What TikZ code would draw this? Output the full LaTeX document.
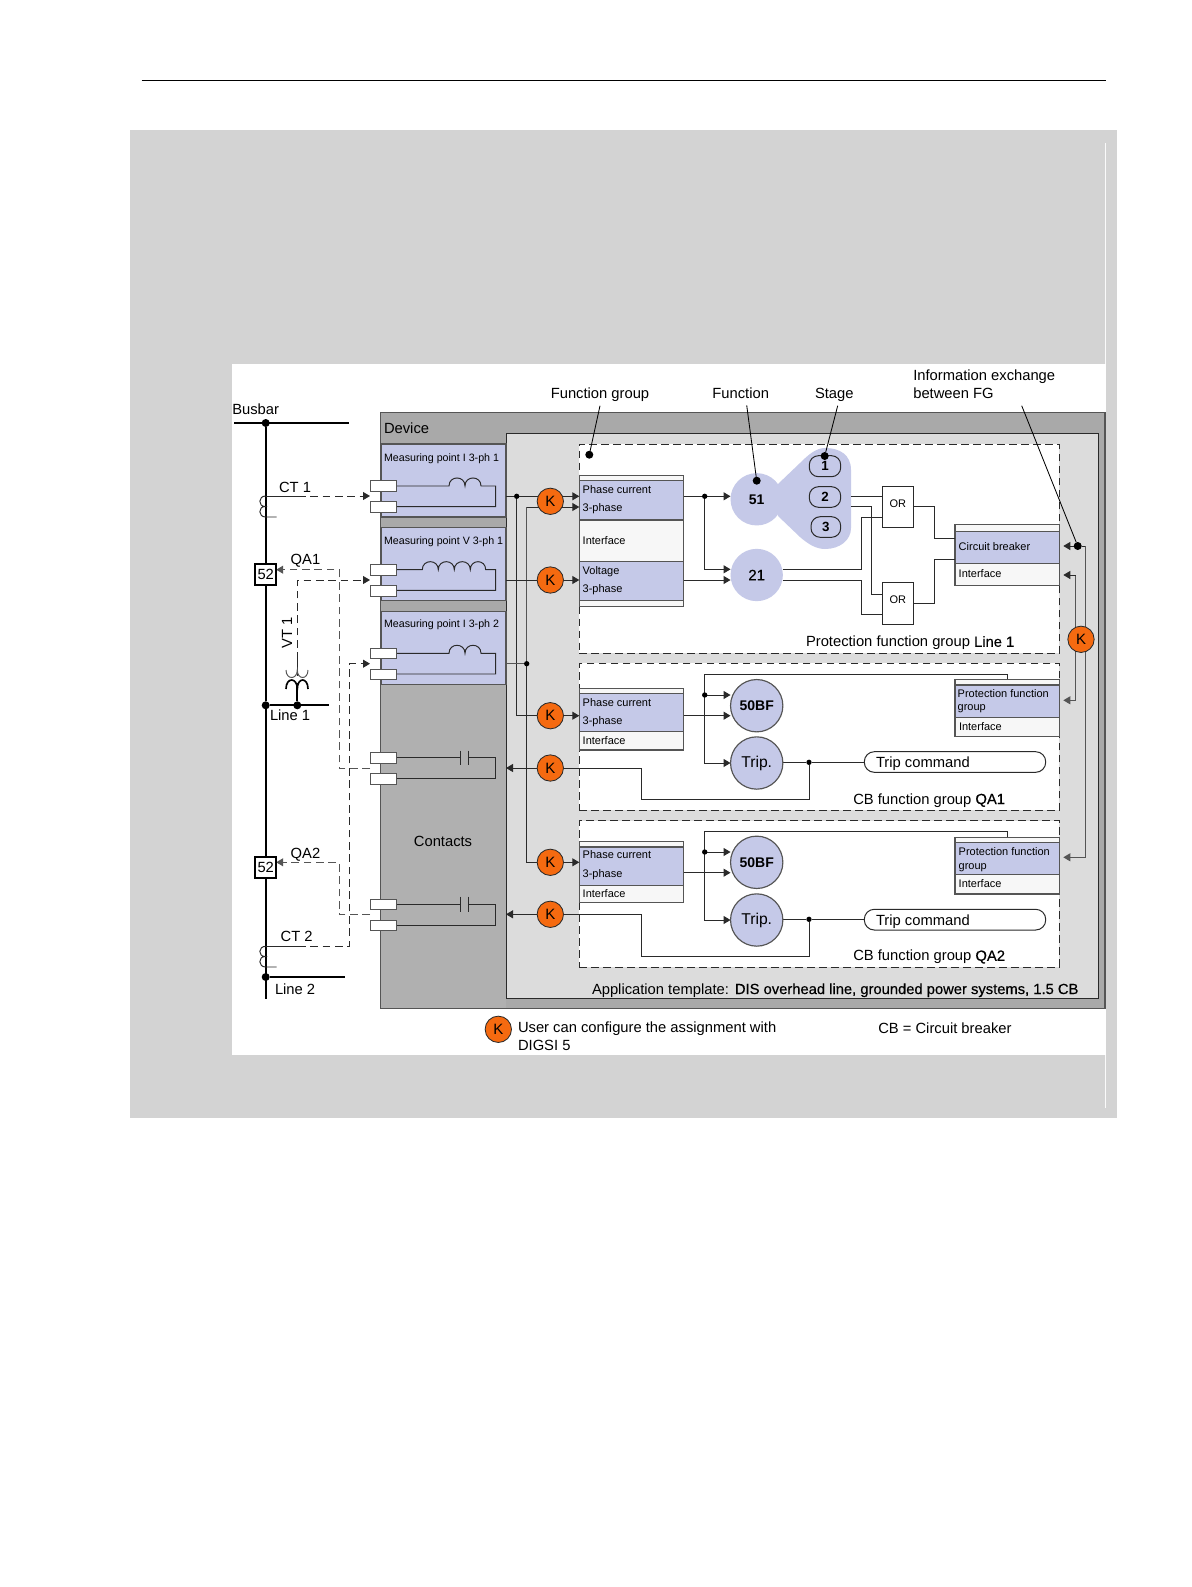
\documentclass[tikz,border=0pt]{standalone}
\usepackage{fontspec}
\setmainfont{Liberation Sans}
\newfontfamily\medfont[FakeBold=0.35]{Liberation Sans}
\usetikzlibrary{arrows.meta,fit}
\pgfdeclarelayer{back}
\pgfdeclarelayer{wires}
\pgfsetlayers{back,wires,main}
\definecolor{panelgrey}{HTML}{D3D3D3}
\definecolor{devgrey}{HTML}{A9A9A9}
\definecolor{contgrey}{HTML}{B0B0B0}
\definecolor{appgrey}{HTML}{DCDCDC}
\definecolor{bandblue}{HTML}{C5C9E8}
\definecolor{korange}{HTML}{F56A10}
\definecolor{wirecol}{HTML}{2A2A2A}
\definecolor{edgecol}{HTML}{555555}
\tikzset{
  sheet/.style={inner sep=0pt,outer sep=0pt},
  mpbox/.style={sheet,fill=bandblue,draw=edgecol,line width=0.7pt},
  fgbox/.style={sheet,fill=white,draw=wirecol,line width=0.6pt,dash pattern=on 4.6pt off 2.6pt},
  blockbox/.style={sheet,fill=white!97!black,draw=edgecol,line width=0.7pt},
  bandbox/.style={sheet,fill=bandblue,draw=edgecol,line width=0.7pt},
  termbox/.style={sheet,fill=white,draw=edgecol,line width=0.6pt},
  orbox/.style={sheet,fill=white,draw=wirecol,line width=0.6pt},
  stagebox/.style={sheet,draw=wirecol,line width=0.6pt,rounded corners=5.5pt},
  tripbox/.style={sheet,fill=white,draw=wirecol,line width=0.6pt,rounded corners=6pt},
  kcirc/.style={circle,sheet,minimum size=15.8pt,fill=korange,draw=wirecol,line width=0.5pt,font=\fontsize{9}{10}\selectfont},
  fcirc/.style={circle,sheet,minimum size=31.4pt,fill=bandblue,font=\fontsize{8.4}{10}\selectfont},
  ocirc/.style={fcirc,draw=edgecol,line width=0.7pt},
  bigdot/.style={circle,sheet,minimum size=4.8pt,fill=black},
  smalldot/.style={circle,sheet,minimum size=3.2pt,fill=black},
  wire/.style={draw=wirecol,line width=0.58pt},
  heavy/.style={draw=black,line width=1.3pt},
  dashwire/.style={draw=wirecol,line width=0.58pt,dash pattern=on 4.6pt off 2.8pt},
  leader/.style={draw=black,line width=0.5pt},
  lab/.style={sheet,anchor=west,font=\fontsize{8.85}{10}\selectfont,text height=7.5pt,text depth=0.6pt},
  midlab/.style={sheet,font=\fontsize{8.85}{10}\selectfont,text height=7.5pt,text depth=0.6pt},
  smalllab/.style={sheet,anchor=west,font=\fontsize{6.6}{8}\selectfont,text height=5.2pt,text depth=0.6pt},
  mplab/.style={smalllab,font=\fontsize{6.4}{8}\selectfont}
}
\begin{document}
\begin{tikzpicture}[x=0.6pt,y=-0.6pt,>={Triangle[length=4.2pt,width=4.8pt]}]
\useasboundingbox (0,0) rectangle (1191,1587);

% sheet, frames and boxes
\begin{pgfonlayer}{back}
\draw[line width=0.9pt] (141.7,80.3) -- (1106,80.3);
\fill[panelgrey] (130,130) rectangle (1116.7,1118.3);
\fill[white] (231.7,364) rectangle (1106,1055);
\draw[white!88!panelgrey,line width=0.6pt] (1105.5,143) -- (1105.5,364);
\draw[white!88!panelgrey,line width=0.6pt] (1105.5,1055) -- (1105.5,1108);
\node[sheet,fill=devgrey,draw=edgecol,line width=0.8pt,fit={(380.7,412.3) (1105,1008.3)}] (device) {};
\fill[contgrey] (381,684) rectangle (506,1007.6);
\node[sheet,fill=appgrey,draw=wirecol,line width=0.6pt,fit={(506,433.3) (1098,998.3)}] (app) {};
\node[mpbox,fit={(381,444) (506,517)}] (mpa) {};
\node[mpbox,fit={(381,527.7) (506,600.7)}] (mpb) {};
\node[mpbox,fit={(381,611.3) (506,684.3)}] (mpc) {};
\node[fgbox,fit={(579.3,444) (1059.3,653.3)}] (fga) {};
\node[fgbox,fit={(579.3,663.3) (1059.3,810.3)}] (fgb) {};
\node[fgbox,fit={(579.3,820.7) (1059.3,967)}] (fgc) {};
\fill[bandblue] (778,484) -- (800,463) .. controls (808,455) and (816,448) .. (825,448) .. controls (840,448) and (851,455) .. (851,470) -- (851,528) .. controls (851,540) and (840,549) .. (825,549) .. controls (816,549) and (808,544) .. (800,537) -- (778,516) -- cycle;
\node[blockbox,fit={(579.3,475.3) (683.7,606.3)}] (ifa) {};
\node[bandbox,fit={(579.3,480.7) (683.7,520)}] (ifaI) {};
\node[bandbox,fit={(579.3,561.3) (683.7,600.7)}] (ifaV) {};
\node[blockbox,fit={(579.3,688.3) (683.7,750)}] (ifb) {};
\node[bandbox,fit={(579.3,693.7) (683.7,731.3)}] (ifbI) {};
\node[blockbox,fit={(579.3,841.7) (683.7,902.3)}] (ifc) {};
\node[bandbox,fit={(579.3,847) (683.7,885.3)}] (ifcI) {};
\node[blockbox,fit={(955,524.7) (1059.3,585.3)}] (cbi) {};
\node[bandbox,fit={(955,531.3) (1059.3,563.3)}] (cbiB) {};
\node[blockbox,fit={(955,679.3) (1059.3,736.7)}] (pfa) {};
\node[bandbox,fit={(955,685) (1059.3,717.3)}] (pfaB) {};
\node[blockbox,fit={(955,837.3) (1059.3,894)}] (pfb) {};
\node[bandbox,fit={(955,842.7) (1059.3,874.7)}] (pfbB) {};
\end{pgfonlayer}

% round parts and small boxes
\node[kcirc] (ka) at (550.3,501.3) {K};
\node[kcirc] (kb) at (550.3,580) {K};
\node[kcirc] (kc) at (550.3,715.7) {K};
\node[kcirc] (kd) at (550.3,768) {K};
\node[kcirc] (ke) at (550.3,862.3) {K};
\node[kcirc] (kf) at (550.3,914.3) {K};
\node[kcirc] (kg) at (1081,639.3) {K};
\node[kcirc] (kh) at (498.3,1029.3) {K};
\node[fcirc] (fa) at (756.7,499.3) {\textbf{51}};
\node[fcirc,font=\fontsize{9}{10}\selectfont] (fb) at (756.7,575) {\medfont 21};
\node[ocirc] (bfa) at (756.7,705.7) {\textbf{50BF}};
\node[ocirc,font=\fontsize{9.4}{10}\selectfont] (tra) at (756.7,763) {Trip.};
\node[ocirc] (bfb) at (756.7,862.3) {\textbf{50BF}};
\node[ocirc,font=\fontsize{9.4}{10}\selectfont] (trb) at (756.7,920) {Trip.};
\node[stagebox,fit={(809.3,455.7) (840.7,476.7)},label={[sheet,font=\fontsize{8}{10}\selectfont\bfseries,name=sta]center:1}] (stagea) {};
\node[stagebox,fit={(809.3,486.7) (840.7,507.3)},label={[sheet,font=\fontsize{8}{10}\selectfont\bfseries,name=stb]center:2}] (stageb) {};
\node[stagebox,fit={(811,516.7) (840.7,537.3)},label={[sheet,font=\fontsize{8}{10}\selectfont\bfseries,name=stc]center:3}] (stagec) {};
\node[orbox,fit={(882,486) (913.7,527.7)}] (oa) {};
\node[orbox,fit={(882,582.7) (913.7,624.3)}] (ob) {};
\node[sheet,font=\fontsize{6.6}{8}\selectfont] (ora) at (897.8,503.3) {OR};
\node[sheet,font=\fontsize{6.6}{8}\selectfont] (orb) at (897.8,600) {OR};
\node[tripbox,fit={(864.3,751.7) (1045.7,772.3)}] (cmda) {};
\node[tripbox,fit={(864.3,909.3) (1045.7,930)}] (cmdb) {};
\node[termbox,fit={(370,480.7) (396.7,491.3)}] (tau) {};
\node[termbox,fit={(370,501.3) (396.7,512.3)}] (tal) {};
\node[termbox,fit={(370,564.7) (396.7,575.3)}] (tbu) {};
\node[termbox,fit={(370,585.3) (396.7,596)}] (tbl) {};
\node[termbox,fit={(370,648) (396.7,658.3)}] (tcu) {};
\node[termbox,fit={(370,669) (396.7,679.3)}] (tcl) {};
\node[termbox,fit={(370,752.3) (396.7,763.3)}] (tdu) {};
\node[termbox,fit={(370,773.7) (396.7,784.3)}] (tdl) {};
\node[termbox,fit={(370,899.3) (396.7,909.7)}] (teu) {};
\node[termbox,fit={(370,920) (396.7,930.7)}] (tel) {};
\node[draw=black,line width=1.3pt,fill=white,sheet,minimum width=12.6pt,minimum height=12.6pt,font=\fontsize{8.85}{10}\selectfont] (cba) at (265.7,574.8) {52};
\node[draw=black,line width=1.3pt,fill=white,sheet,minimum width=12.6pt,minimum height=12.6pt,font=\fontsize{8.85}{10}\selectfont] (cbb) at (265.7,867.8) {52};

% junctions
\node[bigdot] (dbus) at (265.7,423) {};
\node[bigdot] (dlinea) at (265.7,705.3) {};
\node[bigdot] (dvt) at (297.3,705.3) {};
\node[bigdot] (dlineb) at (265.7,977) {};
\node[smalldot] (ja) at (516.7,496.3) {};
\node[smalldot] (jb) at (526.7,663.7) {};
\node[smalldot] (jc) at (704.7,496.3) {};
\node[smalldot] (jd) at (704.7,695) {};
\node[smalldot] (je) at (704.7,852) {};
\node[smalldot] (jf) at (809,762.3) {};
\node[smalldot] (jg) at (809,919.3) {};
\node[bigdot] (dgroup) at (589.3,454.7) {};
\node[bigdot] (dfunc) at (756.7,480.7) {};
\node[bigdot] (dstage) at (824.7,456) {};
\node[bigdot] (dinfo) at (1077.7,546) {};

% free ends of the wires
\coordinate (busl) at (234.3,423);
\coordinate (busr) at (349.3,423);
\coordinate (busend) at (265.7,999.3);
\coordinate (lineaend) at (329,705.3);
\coordinate (linebend) at (345,977);
\coordinate (cta) at (265.7,496);
\coordinate (ctasolid) at (298,496);
\coordinate (ctatip) at (370,496);
\coordinate (ctaend) at (276.7,517);
\coordinate (ctb) at (265.7,946.3);
\coordinate (ctbsolid) at (298,946.3);
\coordinate (ctbend) at (276.7,967);
\coordinate (vttip) at (370,580);
\coordinate (vttop) at (297.3,660);
\coordinate (ctbtip) at (370,663.7);
\coordinate (qaone) at (370,768.3);
\coordinate (qatwo) at (370,914.7);
\coordinate (dropb) at (526.7,507);
\coordinate (kda) at (641.7,768);
\coordinate (kdb) at (641.7,799.3);
\coordinate (kea) at (641.7,914.3);
\coordinate (keb) at (641.7,956);

\begin{pgfonlayer}{wires}
% lines of the plant
\draw[heavy] (busl) -- (busr);
\draw[heavy] (dbus) -- (cba.north);
\draw[heavy] (cba.south) -- (dlinea) -- (cbb.north);
\draw[heavy] (cbb.south) -- (busend);
\draw[heavy] (dlinea) -- (lineaend);
\draw[heavy] (dlineb) -- (linebend);
\draw[wire] (cta) -- (ctasolid);
\draw[dashwire,->] (ctasolid) -- (ctatip);
\draw[wire] (cta) .. controls (258,496) and (258,506.5) .. (265,506.5) .. controls (258,506.5) and (258,517) .. (265.7,517) -- (ctaend);
\draw[dashwire,draw=edgecol,->] (qaone) -- ++(-31,0) |- (cba.east |- 0,569.7);
\draw[dashwire,->] (vttop) |- (vttip);
\draw[wire] (vttop) -- (297.3,676);
\draw[wire,draw=edgecol] (286,670) .. controls (286,680) and (297.3,680) .. (297.3,670) .. controls (297.3,680) and (308,680) .. (308,670);
\draw[heavy,line width=1pt] (286,689) .. controls (286,677) and (297.3,677) .. (297.3,689) .. controls (297.3,677) and (308,677) .. (308,689);
\draw[heavy,line width=1pt] (297.3,683) -- (dvt);
\draw[dashwire,->] (ctbsolid) -| (349.3,663.7) -- (ctbtip);
\draw[dashwire,draw=edgecol,->] (qatwo) -- ++(-31,0) |- (cbb.east |- 0,862.3);
\draw[wire] (ctb) -- (ctbsolid);
\draw[wire] (ctb) .. controls (258,946.3) and (258,956.5) .. (265,956.5) .. controls (258,956.5) and (258,967) .. (265.7,967) -- (ctbend);

% windings and contacts
\draw[wire] (tau.east |- 0,486) -- (449,486) .. controls +(0,-10.7) and +(0,-10.7) .. ++(16,0) .. controls +(0,-10.7) and +(0,-10.7) .. ++(16,0) -- (495.7,486) -- (495.7,506.7) -- (tal.east |- 0,506.7);
\draw[wire] (tbu.east |- 0,569.7) -- (422.3,569.7) .. controls +(0,-10.7) and +(0,-10.7) .. ++(16,0) .. controls +(0,-10.7) and +(0,-10.7) .. ++(16,0) .. controls +(0,-10.7) and +(0,-10.7) .. ++(16,0) .. controls +(0,-10.7) and +(0,-10.7) .. ++(15.4,0) -- (495.7,569.7) -- (495.7,590.3) -- (tbl.east |- 0,590.3);
\draw[wire] (tcu.east |- 0,653.3) -- (449,653.3) .. controls +(0,-10.7) and +(0,-10.7) .. ++(16,0) .. controls +(0,-10.7) and +(0,-10.7) .. ++(16,0) -- (495.7,653.3) -- (495.7,674) -- (tcl.east |- 0,674);
\draw[wire] (tdu.east |- 0,757.7) -- (460,757.7) (460,750.7) -- (460,765) (468,750.7) -- (468,765) (468,757.7) -- (495.7,757.7) -- (495.7,778.7) -- (tdl.east |- 0,778.7);
\draw[wire] (teu.east |- 0,904.3) -- (460,904.3) (460,896.7) -- (460,911.7) (468,896.7) -- (468,911.7) (468,904.3) -- (495.7,904.3) -- (495.7,925.3) -- (tel.east |- 0,925.3);

% device inputs and outputs
\draw[wire] (mpa.east |- ja) -- (ja);
\draw[wire,->] (ja) -- (ifa.west |- ja);
\draw[wire] (ja) |- (kc.west);
\draw[wire,draw=edgecol] (mpc.east |- jb) -- (jb);
\draw[wire,draw=edgecol] (dropb) -- (jb);
\draw[wire] (jb) |- (ke.west);
\draw[wire,->] (dropb) -- (ifa.west |- dropb);
\draw[wire] (mpb.east |- kb) -- (kb.west);
\draw[wire,->] (kb.east) -- (ifa.west |- kb);
\draw[wire,->] (kc.east) -- (ifb.west |- kc);
\draw[wire,->] (ke.east) -- (ifc.west |- ke);
\draw[wire,->] (kd.west) -- (app.west |- kd);
\draw[wire,->] (kf.west) -- (app.west |- kf);
\draw[wire] (kd.east) -- (kda) -- (kdb) -| (jf);
\draw[wire] (kf.east) -- (kea) -- (keb) -| (jg);

% protection function group
\draw[wire] (ifa.east |- jc) -- (jc);
\draw[wire,->] (jc) -- (fa.west |- jc);
\draw[wire,->] (jc) |- (fb.west |- 0,569.3);
\draw[wire,->] (ifa.east |- 0,580) -- (fb.west |- 0,580);
\draw[wire] (fb.east |- 0,569.3) -| (861,517.3) -- (oa.west |- 0,517.3);
\draw[wire] (fb.east |- 0,580.3) -| (861,614) -- (ob.west |- 0,614);
\draw[wire] (851,496) -- (oa.west |- 0,496);
\draw[wire] (851,506.7) -| (871.7,594) -- (ob.west |- 0,594);
\draw[wire] (oa.east |- 0,506.7) -| (934.3,538.3) -- (cbi.west |- 0,538.3);
\draw[wire] (ob.east |- 0,603.7) -| (934.3,559) -- (cbi.west |- 0,559);

% breaker groups
\draw[wire] (ifb.east |- kc) -- (704.7,715.7);
\draw[wire,->] (704.7,715.7) -- (bfa.west |- 0,715.7);
\draw[wire,->] (jd) -- (bfa.west |- jd);
\draw[wire,->] (pfa.north -| 1007.3,0) |- (704.7,674.3) |- (tra.west);
\draw[wire] (tra.east |- jf) -- (jf);
\draw[wire] (jf) -- (cmda.west |- jf);
\draw[wire] (ifc.east |- 0,872.7) -- (704.7,872.7);
\draw[wire,->] (704.7,872.7) -- (bfb.west |- 0,872.7);
\draw[wire,->] (je) -- (bfb.west |- je);
\draw[wire,->] (pfb.north -| 1007.3,0) |- (704.7,831.3) |- (trb.west);
\draw[wire] (trb.east |- jg) -- (jg);
\draw[wire] (jg) -- (cmdb.west |- jg);

% exchange between the groups
\draw[wire,->] (dinfo) -- (1063.3,546);
\draw[wire] (dinfo) -- (1085.7,546);
\draw[wire,draw=edgecol,->] (1085.7,546) |- (1063.3,857.3);
\draw[wire,draw=edgecol,->] (1075.7,575) |- (1063.3,700.3);
\draw[wire,->] (1075.7,575) -- (1063.3,575);
\end{pgfonlayer}

% leaders
\coordinate (lga) at (600,405.7);
\coordinate (lfa) at (746.7,405.3);
\coordinate (lsa) at (837.7,405.7);
\coordinate (lia) at (1021.7,405.7);
\draw[leader] (lga) -- (dgroup);
\draw[leader] (lfa) -- (dfunc);
\draw[leader] (lsa) -- (dstage);
\draw[leader] (lia) -- (dinfo);

% texts of the plant
\node[lab] (tbusbar) at (232.3,409) {Busbar};
\node[lab] (tcta) at (279,486.7) {CT 1};
\node[lab] (tqa) at (290.7,559) {QA1};
\node[midlab,rotate=90] (tvt) at (286.3,632.7) {VT 1};
\node[lab] (tlinea) at (270,715) {Line 1};
\node[lab] (tqb) at (290.7,852.7) {QA2};
\node[lab] (tctb) at (280.7,936) {CT 2};
\node[lab] (tlineb) at (275,988.3) {Line 2};
\node[lab] (tdev) at (384,427.7) {Device};
\node[midlab] (tcont) at (443,841) {Contacts};
\node[mplab] (tmpa) at (384,457.3) {Measuring point I 3-ph 1};
\node[mplab] (tmpb) at (384,540.7) {Measuring point V 3-ph 1};
\node[mplab] (tmpc) at (384,623.3) {Measuring point I 3-ph 2};

% texts above the device
\node[midlab] (tgroup) at (600,392.7) {Function group};
\node[midlab] (tfunc) at (740.7,392.7) {Function};
\node[midlab] (tstage) at (834.3,392.7) {Stage};
\node[lab] (tinfoa) at (913.3,375) {Information exchange};
\node[lab] (tinfob) at (913.3,392.7) {between FG};

% texts of the blocks
\node[smalllab] (tifaa) at (582.7,489.3) {Phase current};
\node[smalllab] (tifab) at (582.7,507.7) {3-phase};
\node[smalllab] (tifac) at (582.7,540.3) {Interface};
\node[smalllab] (tifad) at (582.7,570.3) {Voltage};
\node[smalllab] (tifae) at (582.7,589) {3-phase};
\node[smalllab] (tifba) at (582.7,702.3) {Phase current};
\node[smalllab] (tifbb) at (582.7,721) {3-phase};
\node[smalllab] (tifbc) at (582.7,740.3) {Interface};
\node[smalllab] (tifca) at (582.7,854.7) {Phase current};
\node[smalllab] (tifcb) at (582.7,873.3) {3-phase};
\node[smalllab] (tifcc) at (582.7,893.3) {Interface};
\node[smalllab] (tcba) at (958.7,546.7) {Circuit breaker};
\node[smalllab] (tcbb) at (958.7,573.3) {Interface};
\node[smalllab] (tpfaa) at (957.7,693.3) {Protection function};
\node[smalllab] (tpfab) at (957.7,707) {group};
\node[smalllab] (tpfac) at (959,726.7) {Interface};
\node[smalllab] (tpfba) at (958.7,852) {Protection function};
\node[smalllab] (tpfbb) at (958.7,865.7) {group};
\node[smalllab] (tpfbc) at (958.7,884) {Interface};
\node[lab] (tcmda) at (876,762) {Trip command};
\node[lab] (tcmdb) at (876,919.5) {Trip command};

% names of the groups
\node[lab] (tfga) at (806,641) {Protection function group {\medfont Line 1}};
\node[lab] (tfgb) at (853.3,798.3) {CB function group {\medfont QA1}};
\node[lab] (tfgc) at (853.3,955) {CB function group {\medfont QA2}};
\node[lab] (ttempl) at (592,988.3) {Application template:\hspace{3.6pt}{\medfont DIS overhead line, grounded power systems, 1.5 CB}};

% legend
\node[lab] (tlega) at (518,1027) {User can configure the assignment with};
\node[lab] (tlegb) at (518,1044.6) {DIGSI 5};
\node[lab] (tlegc) at (878.3,1027.3) {CB = Circuit breaker};
\end{tikzpicture}
\end{document}
